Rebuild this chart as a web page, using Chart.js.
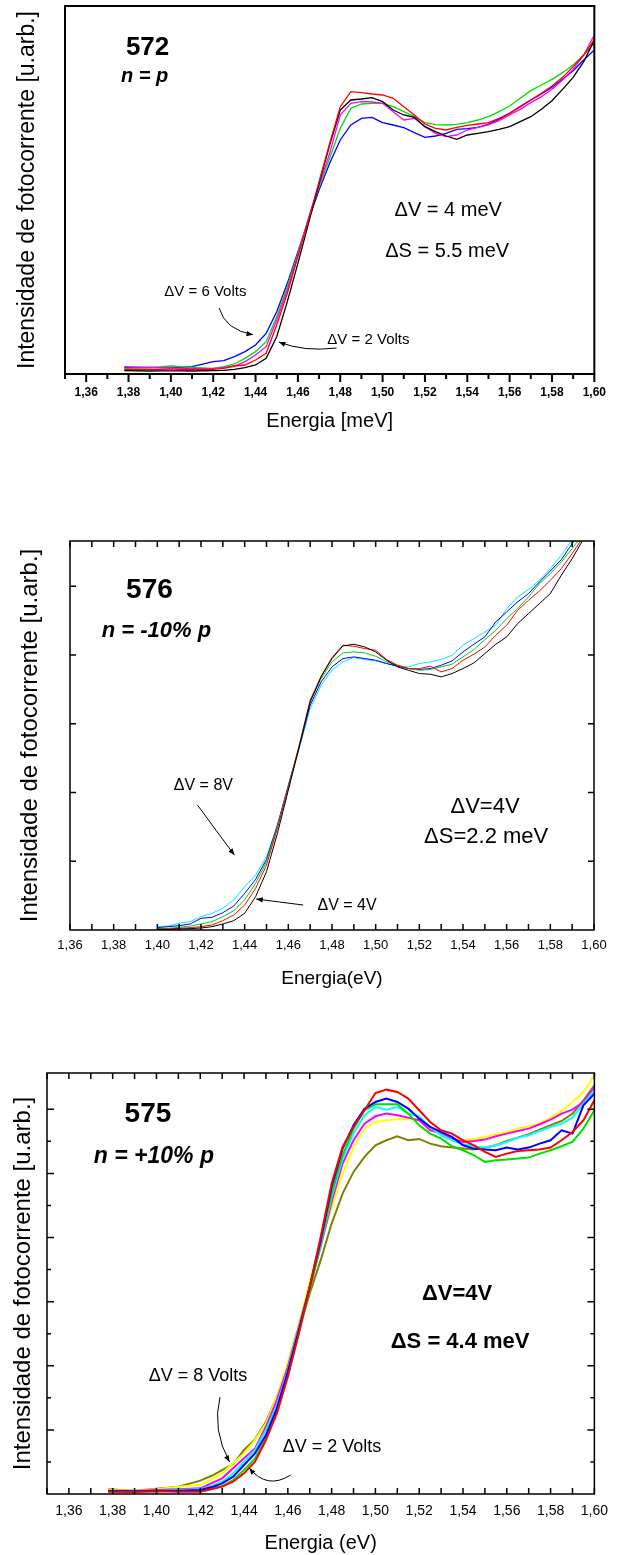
<!DOCTYPE html>
<html>
<head>
<meta charset="utf-8">
<script src="https://cdn.jsdelivr.net/npm/chart.js@4.4.0/dist/chart.umd.min.js"></script>
<style>
  body { margin: 0; background: #fff; }
  canvas { position: absolute; left: 0; }
</style>
</head>
<body>
<canvas id="g572" width="617" height="440" style="top:0px"></canvas>
<canvas id="g576" width="617" height="500" style="top:500px"></canvas>
<canvas id="g575" width="617" height="495" style="top:1060px"></canvas>
<script>
// eixo x comum
const marcasX = [1.35, 1.36, 1.37, 1.38, 1.39, 1.40, 1.41, 1.42, 1.43, 1.44, 1.45, 1.46, 1.47,
  1.48, 1.49, 1.50, 1.51, 1.52, 1.53, 1.54, 1.55, 1.56, 1.57, 1.58, 1.59, 1.60];
const rotulosX = [1.36, 1.38, 1.40, 1.42, 1.44, 1.46, 1.48, 1.50, 1.52, 1.54, 1.56, 1.58, 1.60];

// amostra 572 (n = p)
const energia572 = [1.378, 1.39, 1.40, 1.41, 1.42, 1.425, 1.43, 1.435, 1.44, 1.445, 1.45, 1.455, 1.46, 1.465,
  1.47, 1.475, 1.48, 1.485, 1.49, 1.495, 1.50, 1.505, 1.51, 1.515, 1.52, 1.525, 1.53, 1.535, 1.54, 1.545,
  1.55, 1.555, 1.56, 1.565, 1.57, 1.575, 1.58, 1.585, 1.59, 1.595, 1.60];
const preto572 = [8, 7, 8, 7, 8, 9, 12, 17, 25, 45, 110, 215, 330, 450, 570, 685, 790, 820, 823, 827, 815, 790,
  775, 768, 740, 725, 712, 702, 715, 720, 725, 732, 740, 755, 770, 792, 818, 852, 888, 935, 1000];
const vermelho572 = [12, 12, 10, 12, 12, 15, 22, 25, 40, 60, 145, 240, 350, 460, 575, 690, 800, 845, 842, 838,
  835, 825, 800, 775, 748, 735, 730, 738, 744, 748, 752, 765, 780, 800, 820, 840, 862, 888, 920, 955, 1002];
const magenta572 = [20, 18, 16, 14, 15, 18, 22, 35, 55, 80, 160, 250, 355, 465, 565, 660, 775, 810, 815, 814,
  810, 785, 760, 765, 740, 720, 710, 715, 730, 738, 745, 758, 775, 792, 812, 830, 852, 880, 912, 955, 1015];
const verde572 = [15, 17, 22, 18, 15, 20, 28, 45, 65, 95, 170, 260, 360, 465, 560, 645, 735, 795, 808, 810,
  810, 800, 785, 770, 752, 746, 745, 747, 752, 760, 770, 785, 802, 825, 848, 865, 882, 902, 925, 955, 990];
const azul572 = [17, 18, 16, 20, 35, 38, 50, 65, 85, 120, 185, 270, 365, 460, 550, 630, 700, 745, 765, 768,
  752, 745, 737, 722, 708, 712, 720, 732, 734, 738, 748, 762, 780, 800, 820, 838, 858, 882, 908, 940, 970];

// amostra 576 (n = -10% p)
const energia576 = [1.40, 1.405, 1.41, 1.415, 1.42, 1.425, 1.43, 1.435, 1.44, 1.445, 1.45, 1.455, 1.46, 1.465,
  1.47, 1.475, 1.48, 1.485, 1.49, 1.495, 1.50, 1.505, 1.51, 1.515, 1.52, 1.525, 1.53, 1.535, 1.54, 1.545,
  1.55, 1.555, 1.56, 1.565, 1.57, 1.575, 1.58, 1.585, 1.59, 1.595, 1.60];
const preto576 = [2, 2, 3, 4, 6, 10, 18, 28, 50, 100, 175, 290, 420, 550, 685, 760, 815, 853, 858, 850, 835,
  810, 790, 780, 770, 768, 760, 770, 785, 802, 830, 858, 880, 920, 950, 980, 1010, 1065, 1115, 1172, 1230];
const vermelho576 = [3, 3, 5, 7, 10, 15, 28, 45, 75, 125, 195, 305, 428, 555, 690, 762, 818, 855, 852, 845,
  840, 812, 795, 785, 785, 792, 775, 785, 810, 828, 850, 885, 915, 960, 990, 1018, 1050, 1085, 1130, 1180, 1235];
const verde576 = [5, 5, 8, 12, 18, 25, 40, 58, 90, 140, 205, 310, 432, 555, 685, 755, 805, 832, 835, 832, 822,
  805, 795, 785, 780, 782, 790, 798, 820, 842, 872, 900, 935, 965, 1000, 1040, 1070, 1105, 1145, 1190, 1245];
const azul576 = [7, 10, 13, 18, 35, 38, 52, 72, 110, 152, 212, 315, 435, 550, 675, 745, 790, 815, 820, 815,
  810, 800, 792, 785, 782, 785, 795, 808, 835, 858, 880, 925, 955, 985, 1010, 1045, 1078, 1112, 1160, 1200, 1250];
const ciano576 = [10, 12, 20, 25, 40, 50, 65, 90, 130, 165, 220, 315, 430, 545, 665, 735, 780, 805, 818, 812,
  808, 800, 793, 790, 800, 805, 812, 825, 855, 875, 895, 915, 965, 1000, 1022, 1050, 1085, 1125, 1172, 1215, 1260];
const marcasY576 = [206.4, 412.8, 619.2, 825.6, 1032];

// amostra 575 (n = +10% p)
const energia575 = [1.378, 1.39, 1.40, 1.41, 1.42, 1.425, 1.43, 1.435, 1.44, 1.445, 1.45, 1.455, 1.46, 1.465,
  1.47, 1.475, 1.48, 1.485, 1.49, 1.495, 1.50, 1.505, 1.51, 1.515, 1.52, 1.525, 1.53, 1.535, 1.54, 1.545,
  1.55, 1.555, 1.56, 1.565, 1.57, 1.575, 1.58, 1.585, 1.59, 1.595, 1.60];
const vermelho575 = [7, 6, 8, 7, 7, 14, 22, 37, 62, 97, 162, 242, 352, 482, 622, 772, 932, 1042, 1102, 1152,
  1204, 1214, 1207, 1187, 1152, 1117, 1092, 1082, 1062, 1047, 1027, 1012, 1022, 1030, 1032, 1034, 1040, 1062, 1087, 1122, 1182];
const verde575 = [8, 7, 8, 9, 10, 17, 24, 42, 72, 107, 167, 247, 357, 482, 612, 752, 902, 1017, 1097, 1152,
  1170, 1170, 1170, 1142, 1107, 1082, 1067, 1044, 1032, 1017, 997, 1002, 1004, 1007, 1010, 1022, 1032, 1044, 1057, 1097, 1152];
const azul575 = [9, 8, 10, 10, 12, 20, 32, 52, 87, 122, 177, 257, 367, 492, 622, 762, 922, 1037, 1107, 1157,
  1177, 1187, 1177, 1157, 1127, 1102, 1087, 1072, 1047, 1037, 1034, 1032, 1040, 1034, 1040, 1052, 1062, 1092, 1082, 1167, 1202];
const ciano575 = [8, 7, 10, 12, 14, 24, 37, 62, 97, 132, 192, 267, 372, 497, 622, 747, 892, 1007, 1082, 1137,
  1162, 1154, 1162, 1142, 1134, 1102, 1077, 1062, 1050, 1044, 1040, 1047, 1057, 1070, 1077, 1090, 1102, 1112, 1130, 1172, 1212];
const magenta575 = [10, 9, 12, 14, 17, 32, 47, 77, 107, 137, 202, 282, 382, 502, 622, 742, 877, 992, 1062, 1112,
  1134, 1142, 1137, 1130, 1122, 1092, 1084, 1067, 1057, 1060, 1064, 1074, 1082, 1090, 1097, 1110, 1124, 1142, 1154, 1177, 1222];
const amarelo575 = [12, 10, 14, 22, 27, 44, 62, 92, 122, 162, 212, 292, 397, 512, 637, 757, 857, 962, 1040, 1097,
  1117, 1122, 1125, 1126, 1122, 1097, 1080, 1067, 1062, 1066, 1072, 1080, 1087, 1097, 1104, 1112, 1130, 1150, 1177, 1207, 1257];
const oliva575 = [14, 10, 16, 22, 40, 54, 72, 90, 132, 164, 217, 292, 387, 492, 602, 702, 812, 902, 967, 1012,
  1047, 1062, 1074, 1062, 1066, 1052, 1044, 1040, 1037, 1034, 1040, 1047, 1060, 1070, 1080, 1094, 1107, 1120, 1142, 1182, 1227];
const marcasY575 = [96.25, 192.5, 288.75, 385, 481.25, 577.5, 673.75, 770, 866.25, 962.5, 1058.75, 1155];

const FAM = '"Liberation Sans", Arial, Helvetica, sans-serif';
const TITULO_Y = 'Intensidade de fotocorrente [u.arb.]';

function seta(ctx, a, b, c) {
  ctx.beginPath();
  ctx.moveTo(a.x, a.y);
  ctx.quadraticCurveTo(b.x, b.y, c.x, c.y);
  ctx.stroke();
  const ang = Math.atan2(c.y - b.y, c.x - b.x);
  ctx.beginPath();
  ctx.moveTo(c.x, c.y);
  ctx.lineTo(c.x - 7 * Math.cos(ang - 0.38), c.y - 7 * Math.sin(ang - 0.38));
  ctx.lineTo(c.x - 7 * Math.cos(ang + 0.38), c.y - 7 * Math.sin(ang + 0.38));
  ctx.closePath();
  ctx.fill();
}

// moldura, marcas dos eixos e anotacoes
function fazerMoldura(o) {
  return {
    id: 'moldura',
    afterDraw(chart) {
      const { ctx, chartArea: a } = chart;
      const sx = chart.scales.x, sy = chart.scales.y;
      ctx.save();
      ctx.strokeStyle = '#000';
      ctx.fillStyle = '#000';
      ctx.lineWidth = o.espessura;
      ctx.beginPath();
      marcasX.forEach(v => {
        if (v < sx.min - 1e-9) return;
        const px = sx.getPixelForValue(v);
        const len = Math.round(v * 100) % 2 === 0 ? o.xMaior : o.xMenor;
        if (o.fora) {
          ctx.moveTo(px, a.bottom); ctx.lineTo(px, a.bottom + len);
        } else {
          ctx.moveTo(px, a.bottom); ctx.lineTo(px, a.bottom - len);
          ctx.moveTo(px, a.top); ctx.lineTo(px, a.top + len);
        }
      });
      (o.marcasY || []).forEach((v, i) => {
        const py = sy.getPixelForValue(v);
        const len = (o.yAlterna && i % 2 === 0) ? o.yMenor : o.yMaior;
        ctx.moveTo(a.left, py); ctx.lineTo(a.left + len, py);
        ctx.moveTo(a.right, py); ctx.lineTo(a.right - len, py);
      });
      ctx.stroke();
      ctx.strokeRect(a.left, a.top, a.right - a.left, a.bottom - a.top);

      ctx.textAlign = 'center';
      ctx.textBaseline = 'alphabetic';
      o.textos.forEach(t => {
        ctx.font = t.fonte;
        ctx.fillText(t.texto, sx.getPixelForValue(t.x), sy.getPixelForValue(t.y));
      });
      ctx.lineWidth = 1;
      o.setas.forEach(s => {
        const p = q => ({ x: sx.getPixelForValue(q[0]), y: sy.getPixelForValue(q[1]) });
        seta(ctx, p(s[0]), p(s[1]), p(s[2]));
      });
      ctx.restore();
    }
  };
}

function desenharPainel(id, p) {
  const ctx = document.getElementById(id).getContext('2d');
  return new Chart(ctx, {
    type: 'line',
    data: {
      datasets: p.series.map(s => ({
        data: p.energia.map((x, i) => ({ x: x, y: s.y[i] })),
        borderColor: s.cor,
        borderWidth: p.espessuraLinha,
        pointRadius: 0,
        tension: 0,
        fill: false
      }))
    },
    options: {
      responsive: false,
      animation: false,
      devicePixelRatio: 1,
      layout: { padding: p.padding },
      plugins: { legend: { display: false }, tooltip: { enabled: false } },
      scales: {
        x: {
          type: 'linear', min: p.xMin, max: 1.60,
          grid: { display: false, drawTicks: false },
          border: { display: false },
          afterBuildTicks: s => { s.ticks = rotulosX.map(v => ({ value: v })); },
          afterFit: s => { s.height = p.alturaX; },
          ticks: {
            padding: p.padTicks, autoSkip: false, maxRotation: 0, color: '#000',
            font: { family: FAM, size: p.tamTicks, weight: p.pesoTicks },
            callback: v => v.toFixed(2).replace('.', ',')
          },
          title: {
            display: true, text: p.tituloX, color: '#000',
            font: { family: FAM, size: p.tamTituloX },
            padding: { top: 0, bottom: p.padTituloX }
          }
        },
        y: {
          type: 'linear', min: p.yMin, max: p.yMax,
          grid: { display: false, drawTicks: false },
          border: { display: false },
          ticks: { display: false },
          afterFit: s => { s.width = p.larguraY; },
          title: {
            display: true, text: TITULO_Y, color: '#000',
            font: { family: FAM, size: p.tamTituloY },
            padding: { top: p.padTituloY, bottom: 0 }
          }
        }
      }
    },
    plugins: [fazerMoldura(p.moldura)]
  });
}

desenharPainel('g572', {
  energia: energia572,
  series: [
    { y: vermelho572, cor: '#ff0000' },
    { y: preto572, cor: '#000000' },
    { y: magenta572, cor: '#ff00ff' },
    { y: verde572, cor: '#00e000' },
    { y: azul572, cor: '#0000ff' }
  ],
  espessuraLinha: 1.3,
  xMin: 1.35, yMin: -2, yMax: 1102,
  padding: { left: 0, right: 20, top: 6, bottom: 0 },
  larguraY: 65, alturaX: 66,
  padTicks: 11, tamTicks: 12, pesoTicks: 'bold',
  tituloX: 'Energia [meV]', tamTituloX: 20, padTituloX: 7,
  tamTituloY: 23, padTituloY: 14,
  moldura: {
    espessura: 2, fora: true, xMaior: 8, xMenor: 5,
    textos: [
      { texto: '572', x: 1.389, y: 955, fonte: 'bold 26px ' + FAM },
      { texto: 'n = p', x: 1.3876, y: 874, fonte: 'italic bold 20px ' + FAM },
      { texto: '\u0394V = 4 meV', x: 1.531, y: 472, fonte: '20px ' + FAM },
      { texto: '\u0394S = 5.5 meV', x: 1.5305, y: 349, fonte: '20px ' + FAM },
      { texto: '\u0394V = 6 Volts', x: 1.4163, y: 232, fonte: '15px ' + FAM },
      { texto: '\u0394V = 2 Volts', x: 1.4933, y: 88, fonte: '15px ' + FAM }
    ],
    setas: [
      [[1.4228, 196], [1.4257, 130], [1.4388, 116]],
      [[1.4783, 76], [1.4628, 64], [1.451, 94]]
    ]
  }
});

desenharPainel('g576', {
  energia: energia576,
  series: [
    { y: preto576, cor: '#000000' },
    { y: vermelho576, cor: '#ff0000' },
    { y: verde576, cor: '#00d000' },
    { y: azul576, cor: '#0000ff' },
    { y: ciano576, cor: '#00e8ff' }
  ],
  espessuraLinha: 1,
  xMin: 1.36, yMin: 0, yMax: 1168,
  padding: { left: 0, right: 23, top: 41, bottom: 0 },
  larguraY: 70, alturaX: 70,
  padTicks: 8, tamTicks: 13, pesoTicks: 'normal',
  tituloX: 'Energia(eV)', tamTituloX: 19, padTituloX: 10,
  tamTituloY: 24, padTituloY: 16,
  moldura: {
    espessura: 1.5, fora: false, xMaior: 6, xMenor: 6,
    marcasY: marcasY576, yMaior: 6, yMenor: 6, yAlterna: false,
    textos: [
      { texto: '576', x: 1.3964, y: 996, fonte: 'bold 28px ' + FAM },
      { texto: 'n = -10% p', x: 1.3996, y: 879, fonte: 'italic bold 22px ' + FAM },
      { texto: '\u0394V=4V', x: 1.5501, y: 351, fonte: '22px ' + FAM },
      { texto: '\u0394S=2.2 meV', x: 1.5506, y: 261, fonte: '22px ' + FAM },
      { texto: '\u0394V = 8V', x: 1.4211, y: 420, fonte: '16px ' + FAM },
      { texto: '\u0394V = 4V', x: 1.4869, y: 60, fonte: '16px ' + FAM }
    ],
    setas: [
      [[1.4184, 375], [1.4268, 300], [1.4353, 225]],
      [[1.4668, 75], [1.456, 84], [1.4453, 93]]
    ]
  }
});

desenharPainel('g575', {
  energia: energia575,
  series: [
    { y: vermelho575, cor: '#ff0000' },
    { y: azul575, cor: '#0000ff' },
    { y: verde575, cor: '#00e000' },
    { y: ciano575, cor: '#00ffff' },
    { y: magenta575, cor: '#ff00ff' },
    { y: amarelo575, cor: '#ffff00' },
    { y: oliva575, cor: '#808000' }
  ],
  espessuraLinha: 2,
  xMin: 1.35, yMin: 0, yMax: 1264,
  padding: { left: 0, right: 15, top: 13, bottom: 0 },
  larguraY: 47, alturaX: 61,
  padTicks: 9, tamTicks: 14, pesoTicks: 'normal',
  tituloX: 'Energia (eV)', tamTituloX: 20, padTituloX: 0,
  tamTituloY: 24, padTituloY: 9,
  moldura: {
    espessura: 1.5, fora: false, xMaior: 6, xMenor: 6,
    marcasY: marcasY575, yMaior: 7, yMenor: 4, yAlterna: true,
    textos: [
      { texto: '575', x: 1.3961, y: 1116, fonte: 'bold 28px ' + FAM },
      { texto: 'n = +10% p', x: 1.3988, y: 993, fonte: 'italic bold 23px ' + FAM },
      { texto: '\u0394V=4V', x: 1.5373, y: 582, fonte: 'bold 22px ' + FAM },
      { texto: '\u0394S = 4.4 meV', x: 1.5387, y: 438, fonte: 'bold 22px ' + FAM },
      { texto: '\u0394V = 8 Volts', x: 1.419, y: 339, fonte: '18px ' + FAM },
      { texto: '\u0394V = 2 Volts', x: 1.4802, y: 126, fonte: '18px ' + FAM }
    ],
    setas: [
      [[1.429, 291], [1.4253, 192], [1.4334, 96]],
      [[1.4613, 57], [1.4505, 12], [1.4424, 78]]
    ]
  }
});
</script>
</body>
</html>
